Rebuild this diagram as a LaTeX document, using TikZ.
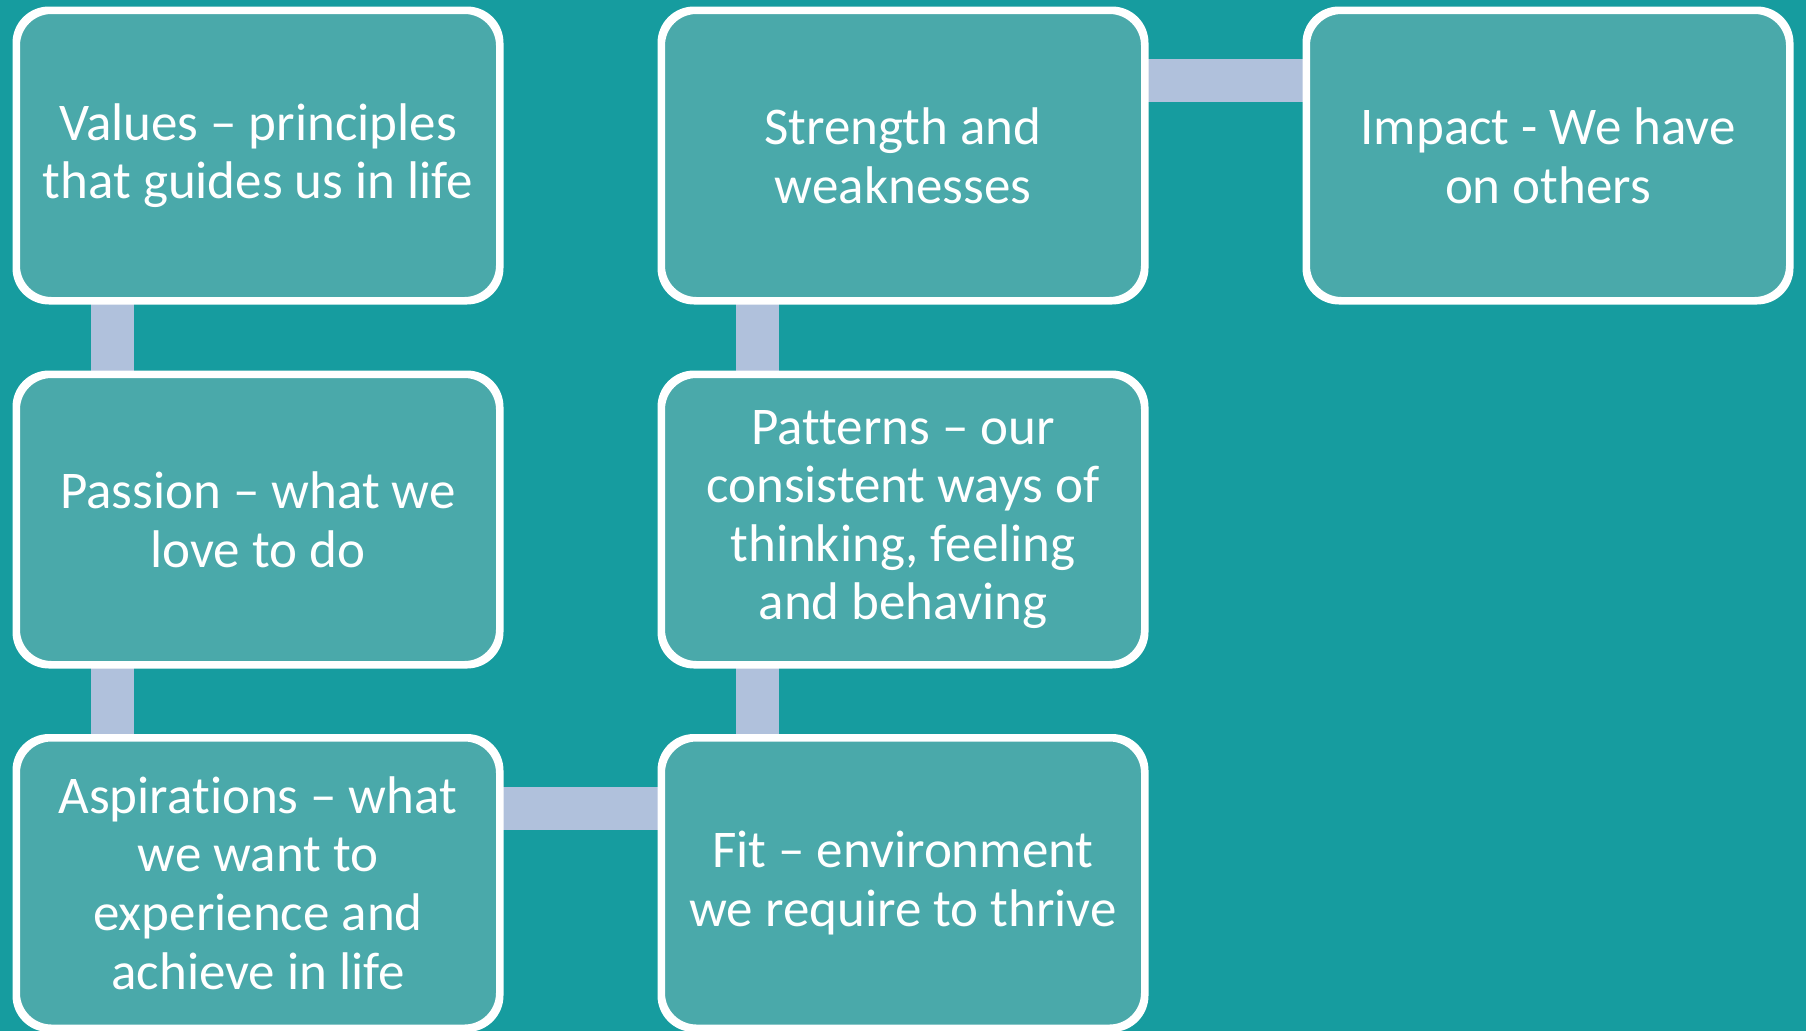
\documentclass[tikz,border=0pt]{standalone}
\usepackage{fontspec}
\setmainfont[Ligatures={NoCommon}]{Carlito}
\usetikzlibrary{calc}
\definecolor{bgteal}{HTML}{169C9F}
\definecolor{boxfill}{HTML}{4AA9AA}
\definecolor{connc}{HTML}{B0C1DC}
\tikzset{
  card/.style={draw=white, line width=5pt, fill=boxfill, rounded corners=34pt,
    minimum width=481pt, minimum height=288pt, align=center, text=white,
    font=\fontsize{53}{58.6}\selectfont, inner sep=0pt},
  conn/.style={draw=connc, line width=43pt}
}
\begin{document}
\begin{tikzpicture}[x=1pt,y=-1pt]
\fill[bgteal] (0,0) rectangle (1806,1031);
\useasboundingbox (0,0) rectangle (1806,1031);
\path
  (258,155.5) node[card] (a1) {Values – principles\\that guides us in life}
  (258,519.5) node[card] (a2) {Passion – what we\\love to do}
  (258,883)   node[card] (a3) {Aspirations – what\\we want to\\experience and\\achieve in life}
  (903,155.5) node[card] (b1) {Strength and\\weaknesses}
  (903,519.5) node[card] (b2) {Patterns – our\\consistent ways of\\thinking, feeling\\and behaving}
  (903,883)   node[card] (b3) {Fit – environment\\we require to thrive}
  (1548,155.5) node[card] (c1) {Impact - We have\\on others};
% connectors
\draw[conn] ($(a1.south west)!0.2!(a1.south east)$) -- ($(a2.north west)!0.2!(a2.north east)$);
\draw[conn] ($(a2.south west)!0.2!(a2.south east)$) -- ($(a3.north west)!0.2!(a3.north east)$);
\draw[conn] ($(a3.north east)!0.245!(a3.south east)$) -- ($(b3.north west)!0.245!(b3.south west)$);
\draw[conn] ($(b3.north west)!0.2!(b3.north east)$) -- ($(b2.south west)!0.2!(b2.south east)$);
\draw[conn] ($(b2.north west)!0.2!(b2.north east)$) -- ($(b1.south west)!0.2!(b1.south east)$);
\draw[conn] ($(b1.north east)!0.245!(b1.south east)$) -- ($(c1.north west)!0.245!(c1.south west)$);
% redraw borders over connector ends
\foreach \n in {a1,a2,a3,b1,b2,b3,c1}{
  \draw[white, line width=5pt, rounded corners=34pt] (\n.north west) rectangle (\n.south east);
}
\end{tikzpicture}
\end{document}
